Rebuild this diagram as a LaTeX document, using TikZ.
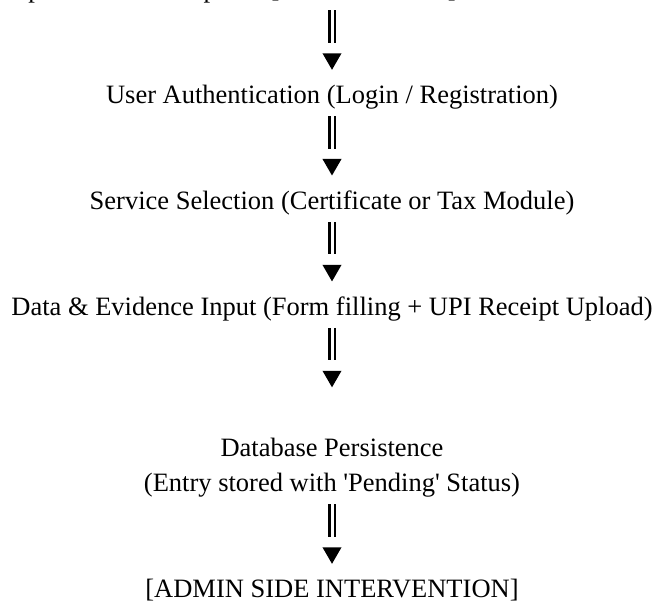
\documentclass[tikz,border=0pt]{standalone}
\usepackage{fontspec}
\setmainfont{Liberation Serif}[Ligatures=TeXOff]
\usetikzlibrary{shapes.geometric}
\begin{document}
\begin{tikzpicture}[>=latex,line join=bevel,
  every node/.style={inner sep=0pt,font=\fontsize{13.3}{17.7}\selectfont},
  flowtext/.style={anchor=base,text depth=3.3bp,align=center},
  tip/.style={regular polygon,regular polygon sides=3,shape border rotate=180,fill=black,minimum size=11bp},
  bars/.style={black,double,double distance=1.5bp,line width=1.35bp,shorten <=2.95bp,shorten >=5bp},
]
%%
\useasboundingbox (0bp,0bp) rectangle (329.5bp,301bp);
\clip (0bp,0bp) rectangle (329.5bp,301bp);
\node (node_0) at (166bp,302.3bp) [flowtext] {Open Online Complaint [CITIZEN SIDE] – ENTRY POINT};
  \node (node_1) at (166bp,249.35bp) [flowtext] {User Authentication (Login / Registration)};
  \node (node_2) at (166bp,196.4bp) [flowtext] {Service Selection (Certificate or Tax Module)};
  \node (node_3) at (166bp,143.45bp) [flowtext] {Data \& Evidence Input (Form filling + UPI Receipt Upload)};
  \node (node_4) at (166bp,55.2bp) [flowtext] {Database Persistence\\(Entry stored with 'Pending' Status)};
  \node (node_5) at (166bp,2.25bp) [flowtext] {[ADMIN SIDE INTERVENTION]};
  \node (tip_0) at (166bp,271.6bp) [tip] {};
  \node (tip_1) at (166bp,218.75bp) [tip] {};
  \node (tip_2) at (166bp,165.8bp) [tip] {};
  \node (tip_3) at (166bp,112.85bp) [tip] {};
  \node (tip_4) at (166bp,24.6bp) [tip] {};
  \draw [bars] (node_0) -- (tip_0);
  \draw [bars] (node_1) -- (tip_1);
  \draw [bars] (node_2) -- (tip_2);
  \draw [bars] (node_3) -- (tip_3);
  \draw [bars] (node_4) -- (tip_4);
%
\end{tikzpicture}
\end{document}
